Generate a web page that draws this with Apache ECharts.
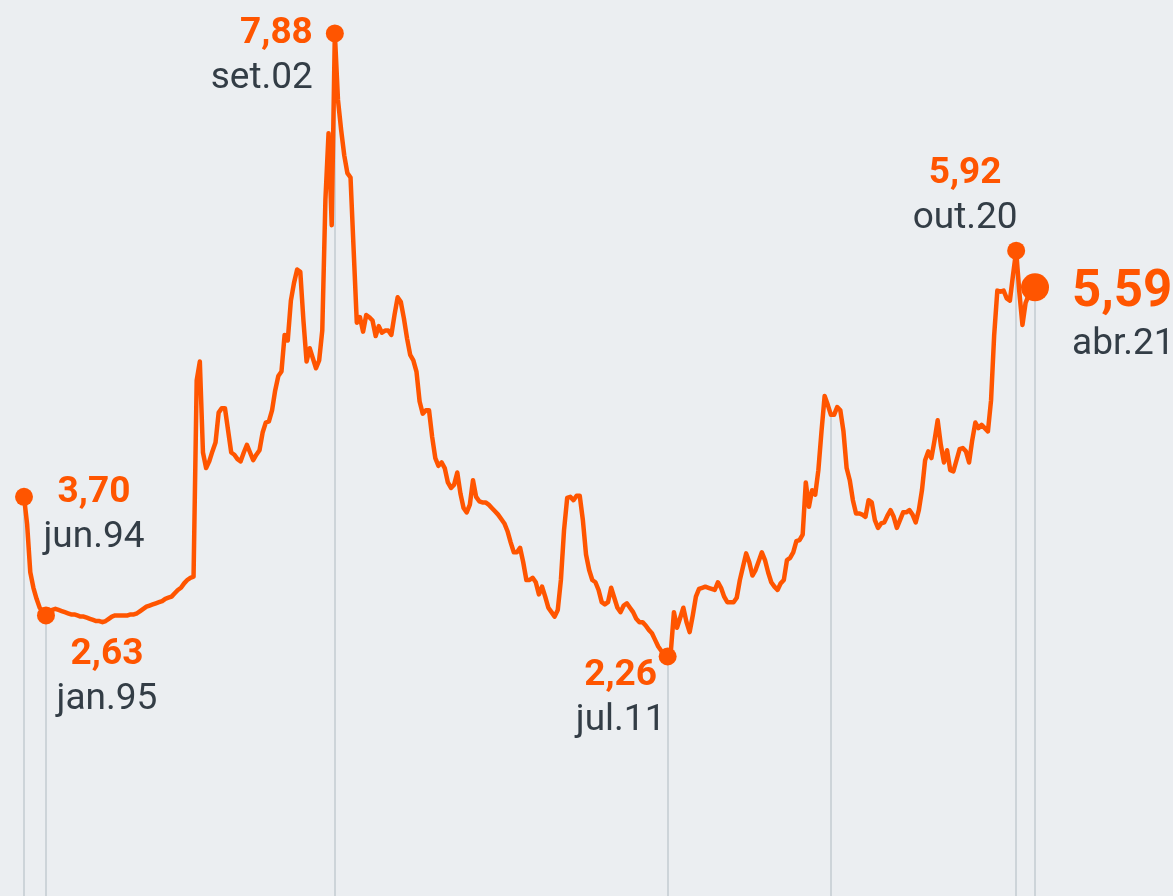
<!DOCTYPE html>
<html>
<head>
<meta charset="utf-8">
<script src="https://cdn.jsdelivr.net/npm/echarts@6/dist/echarts.min.js"></script>
<style>
html, body { margin: 0; padding: 0; background: #ebeef1; }
#chart { width: 1173px; height: 896px; }
</style>
</head>
<body>
<div id="chart"></div>
<script>
var monthNames = ['jan', 'fev', 'mar', 'abr', 'mai', 'jun', 'jul', 'ago', 'set', 'out', 'nov', 'dez'];

// monthly values, jun.94 .. abr.21
var rate = [
  3.70, 3.45, 3.02, 2.88, 2.78, 2.70, 2.66,
  2.63, 2.66, 2.68, 2.69, 2.68, 2.67, 2.66, 2.65, 2.64, 2.64, 2.63, 2.62,
  2.62, 2.61, 2.60, 2.59, 2.58, 2.58, 2.57, 2.58, 2.60, 2.62, 2.63, 2.63,
  2.63, 2.63, 2.63, 2.64, 2.64, 2.65, 2.67, 2.69, 2.71, 2.72, 2.73, 2.74,
  2.75, 2.76, 2.78, 2.79, 2.80, 2.83, 2.86, 2.88, 2.92, 2.95, 2.97, 2.98,
  4.75, 4.92, 4.10, 3.96, 4.02, 4.11, 4.19, 4.46, 4.50, 4.50, 4.30, 4.10,
  4.08, 4.04, 4.02, 4.10, 4.17, 4.10, 4.03, 4.08, 4.12, 4.28, 4.37, 4.38,
  4.48, 4.66, 4.79, 4.83, 5.16, 5.11, 5.47, 5.63, 5.75, 5.73, 5.29, 4.92,
  5.04, 4.95, 4.86, 4.93, 5.20, 6.38, 6.98, 6.15, 7.88, 7.28, 7.01, 6.78,
  6.62, 6.58, 5.92, 5.27, 5.32, 5.19, 5.34, 5.32, 5.29, 5.15, 5.24, 5.18,
  5.20, 5.20, 5.16, 5.34, 5.50, 5.46, 5.31, 5.13, 4.98, 4.93, 4.83, 4.56,
  4.45, 4.48, 4.48, 4.24, 4.05, 3.98, 4.01, 3.96, 3.83, 3.78, 3.81, 3.92,
  3.73, 3.60, 3.56, 3.63, 3.85, 3.70, 3.66, 3.65, 3.65, 3.63, 3.60, 3.57,
  3.54, 3.50, 3.46, 3.39, 3.29, 3.20, 3.20, 3.24, 3.11, 2.95, 2.95, 2.97,
  2.93, 2.82, 2.89, 2.80, 2.70, 2.66, 2.62, 2.68, 2.95, 3.40, 3.69, 3.70,
  3.67, 3.71, 3.71, 3.49, 3.18, 3.04, 2.95, 2.93, 2.86, 2.75, 2.73, 2.75,
  2.88, 2.79, 2.70, 2.66, 2.72, 2.74, 2.70, 2.66, 2.60, 2.57, 2.57, 2.54,
  2.50, 2.47, 2.41, 2.35, 2.31, 2.28, 2.26, 2.30, 2.66, 2.52, 2.61, 2.70,
  2.57, 2.48, 2.63, 2.80, 2.87, 2.88, 2.89, 2.88, 2.87, 2.86, 2.93, 2.88,
  2.80, 2.75, 2.75, 2.75, 2.79, 2.95, 3.07, 3.19, 3.11, 2.99, 3.04, 3.12,
  3.20, 3.13, 3.02, 2.93, 2.89, 2.86, 2.92, 2.95, 3.13, 3.15, 3.20, 3.30,
  3.31, 3.36, 3.83, 3.61, 3.76, 3.72, 3.94, 4.29, 4.61, 4.53, 4.44, 4.44,
  4.51, 4.48, 4.29, 3.96, 3.85, 3.67, 3.55, 3.55, 3.54, 3.52, 3.67, 3.65,
  3.49, 3.42, 3.46, 3.47, 3.53, 3.58, 3.52, 3.42, 3.49, 3.56, 3.56, 3.58,
  3.54, 3.47, 3.58, 3.76, 4.03, 4.11, 4.05, 4.21, 4.39, 4.17, 4.01, 4.12,
  3.94, 3.93, 4.03, 4.13, 4.14, 4.11, 4.01, 4.21, 4.37, 4.32, 4.35, 4.32,
  4.29, 4.57, 5.16, 5.56, 5.55, 5.56, 5.49, 5.47, 5.70, 5.92, 5.55, 5.25,
  5.45, 5.52, 5.57, 5.59
];

var highlights = ['jun.94', 'jan.95', 'set.02', 'jul.11', 'out.20', 'abr.21'];
var guides = ['jun.94', 'jan.95', 'set.02', 'jul.11', 'nov.15', 'out.20', 'abr.21'];

var months = [];
for (var i = 0; i < rate.length; i++) {
  var k = 5 + i;
  months.push(monthNames[k % 12] + '.' + String(1994 + Math.floor(k / 12)).slice(2));
}

var orange = '#ff5500';
var font = 'Roboto';

// where each label block sits relative to its dot
var place = {
  'jun.94': { align: 'center', offset: [70, 18] },
  'jan.95': { align: 'center', offset: [61, 62] },
  'set.02': { align: 'right', offset: [-22, 23] },
  'jul.11': { align: 'center', offset: [-47, 42] },
  'out.20': { align: 'center', offset: [-51, -54] },
  'abr.21': { align: 'left', offset: [37, 28], big: true }
};

var dots = highlights.map(function (m) {
  var idx = months.indexOf(m);
  var p = place[m];
  var txt = rate[idx].toFixed(2).replace('.', ',');
  return {
    value: [idx, rate[idx]],
    symbolSize: p.big ? 28 : 18,
    label: {
      show: true,
      position: 'inside',
      align: p.align,
      verticalAlign: 'middle',
      offset: p.offset,
      formatter: (p.big ? '{vb|' : '{v|') + txt + '}\n{d|' + m + '}',
      rich: {
        v: { color: orange, fontWeight: 'bold', fontSize: 37, lineHeight: 45, fontFamily: font, align: p.align },
        vb: { color: orange, fontWeight: 'bold', fontSize: 51, lineHeight: 58, fontFamily: font, align: p.align },
        d: { color: '#333d46', fontSize: 37, lineHeight: 45, fontFamily: font, align: p.align }
      }
    }
  };
});

var guideLines = guides.map(function (m) {
  var idx = months.indexOf(m);
  return [{ coord: [idx, rate[idx]] }, { coord: [idx, 0.1] }];
});

var myChart = echarts.init(document.getElementById('chart'));

var option = {
  backgroundColor: '#ebeef1',
  animation: false,
  grid: { left: 24, right: 138, top: 9, bottom: 0 },
  xAxis: {
    type: 'category',
    data: months,
    boundaryGap: false,
    show: false
  },
  yAxis: {
    type: 'value',
    min: 0.1,
    max: 8.1,
    show: false
  },
  series: [{
    type: 'line',
    data: rate,
    showSymbol: false,
    z: 2,
    lineStyle: { color: orange, width: 4.5, join: 'round' },
    markLine: {
      z: 1,
      silent: true,
      symbol: 'none',
      label: { show: false },
      lineStyle: { color: '#cdd4d9', width: 2, type: 'solid' },
      emphasis: { disabled: true },
      data: guideLines
    }
  }, {
    type: 'scatter',
    z: 3,
    clip: false,
    itemStyle: { color: orange, opacity: 1 },
    data: dots
  }]
};

myChart.setOption(option);
</script>
</body>
</html>
